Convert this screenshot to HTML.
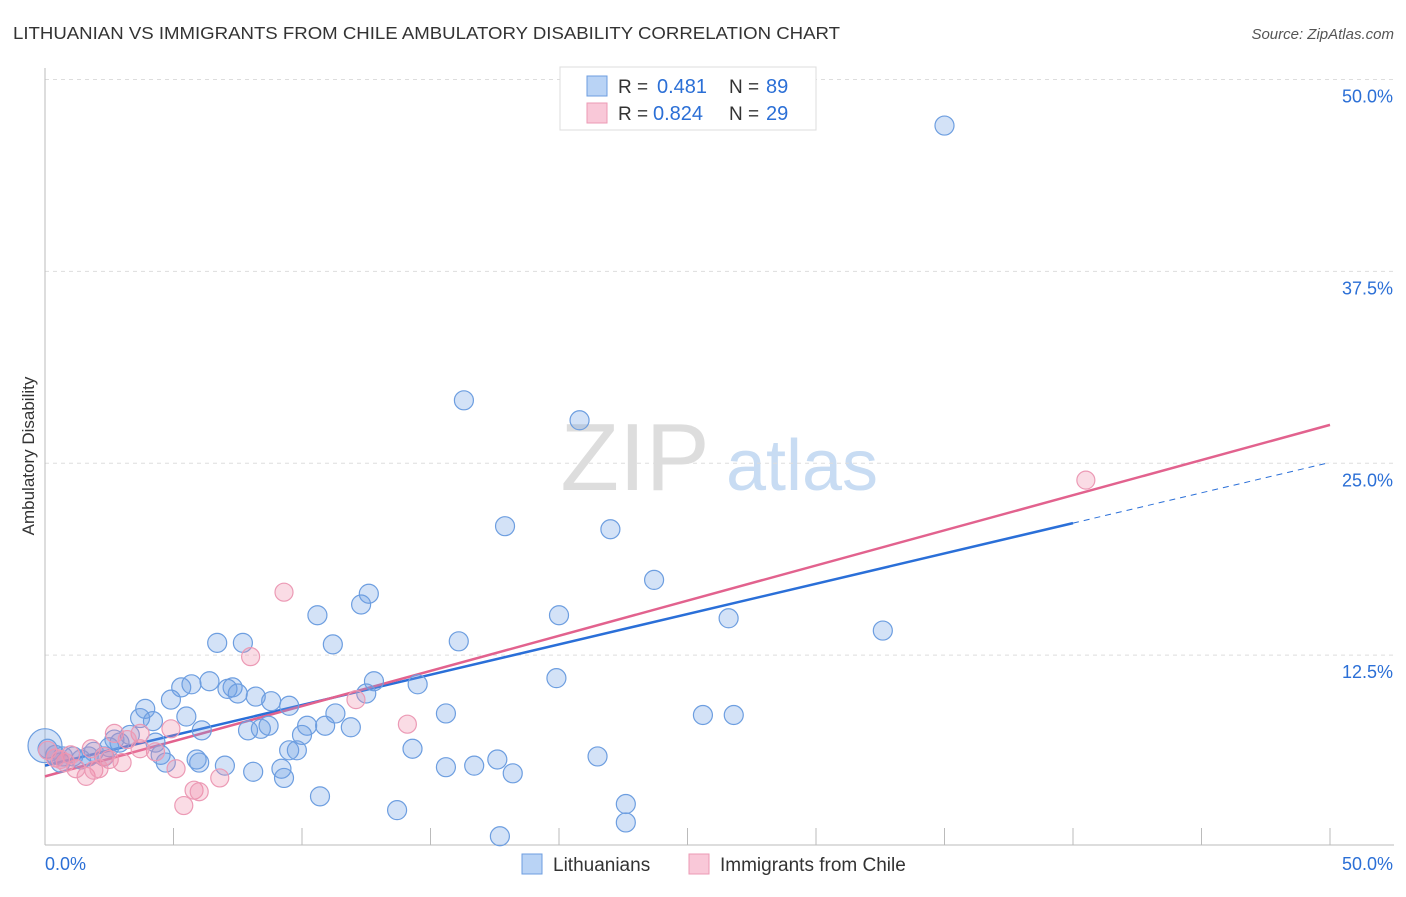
<!DOCTYPE html>
<html><head><meta charset="utf-8"><style>
body{margin:0;background:#fff;font-family:"Liberation Sans",sans-serif;}
svg text{font-family:"Liberation Sans",sans-serif;}
</style></head><body>
<svg id="chart" width="1406" height="892" xmlns="http://www.w3.org/2000/svg">
<text x="13" y="39" font-size="17.5" fill="#333" textLength="827" lengthAdjust="spacingAndGlyphs">LITHUANIAN VS IMMIGRANTS FROM CHILE AMBULATORY DISABILITY CORRELATION CHART</text>
<text x="1394" y="39" font-size="15" fill="#555" text-anchor="end" font-style="italic">Source: ZipAtlas.com</text>
<text transform="translate(34,456) rotate(-90)" font-size="17" fill="#333" text-anchor="middle">Ambulatory Disability</text>
<g>
<text x="635" y="490" font-size="96" fill="#ddd" font-family="Liberation Serif" text-anchor="middle">ZIP</text>
<text x="802" y="490" font-size="72" fill="#c8dcf3" text-anchor="middle">atlas</text>
</g>
<g id="grid"></g><g id="axes"></g><g id="lines"></g><g id="pts"></g>
<g>
<rect x="560" y="67" width="256" height="63" fill="#fff" stroke="#ddd"/>
<rect x="587" y="76" width="20" height="20" fill="#b9d3f5" stroke="#6d9ee0"/>
<rect x="587" y="103" width="20" height="20" fill="#f9c8d8" stroke="#ec9ab5"/>
<text x="618" y="93" font-size="19" fill="#333">R =</text>
<text x="657" y="93" font-size="20" fill="#2b6fd6">0.481</text>
<text x="729" y="93" font-size="19" fill="#333">N =</text>
<text x="766" y="93" font-size="20" fill="#2b6fd6">89</text>
<text x="618" y="120" font-size="19" fill="#333">R =</text>
<text x="653" y="120" font-size="20" fill="#2b6fd6">0.824</text>
<text x="729" y="120" font-size="19" fill="#333">N =</text>
<text x="766" y="120" font-size="20" fill="#2b6fd6">29</text>
</g>
<g>
<rect x="522" y="854" width="20" height="20" fill="#b9d3f5" stroke="#6d9ee0"/>
<text x="553" y="871" font-size="19" fill="#333">Lithuanians</text>
<rect x="689" y="854" width="20" height="20" fill="#f9c8d8" stroke="#ec9ab5"/>
<text x="720" y="871" font-size="19" fill="#333">Immigrants from Chile</text>
</g>
</svg>
<script>
const blueX=[35.0,16.3,20.8,17.9,22.0,23.7,12.6,12.3,10.6,20.0,26.6,32.6,6.7,7.7,11.2,16.1,19.9,12.8,14.5,6.4,5.3,5.7,7.3,7.1,7.5,8.2,8.8,9.5,4.9,3.9,12.5,3.7,4.2,5.5,11.3,15.6,25.6,26.8,6.1,7.9,8.4,8.7,10.2,10.9,10.0,11.9,4.3,3.3,2.9,2.5,1.9,1.7,1.1,0.7,0.4,0.1,0.6,1.4,2.3,2.7,9.5,9.8,14.3,4.5,4.7,6.0,5.9,7.0,8.1,9.2,9.3,15.6,16.7,17.6,18.2,21.5,10.7,13.7,17.7,22.6,22.6];
const blueY=[47.0,29.1,27.8,20.9,20.7,17.4,16.5,15.8,15.1,15.1,14.9,14.1,13.3,13.3,13.2,13.4,11.0,10.8,10.6,10.8,10.4,10.6,10.4,10.3,10.0,9.8,9.5,9.2,9.6,9.0,10.0,8.4,8.2,8.5,8.7,8.7,8.6,8.6,7.6,7.6,7.7,7.9,7.9,7.9,7.3,7.8,6.8,7.3,6.8,6.5,6.2,5.9,5.9,5.9,6.0,6.4,5.5,5.7,5.9,7.0,6.3,6.3,6.4,6.0,5.5,5.5,5.7,5.3,4.9,5.1,4.5,5.2,5.3,5.7,4.8,5.9,3.3,2.4,0.7,2.8,1.6];
const pinkX=[40.5,9.3,8.0,12.1,14.1,4.9,3.7,2.7,1.8,2.3,2.5,3.0,4.3,5.1,6.8,5.8,6.0,5.4,1.6,1.9,1.2,0.8,0.4,0.1,1.0,3.2,0.6,2.1,3.7];
const pinkY=[23.9,16.6,12.4,9.6,8.0,7.7,7.4,7.4,6.4,5.9,5.7,5.5,6.2,5.1,4.5,3.7,3.6,2.7,4.6,5.0,5.1,5.5,5.8,6.3,6.0,7.0,5.7,5.1,6.4];
const blueLine=[5.3,0.395];
const pinkLine=[4.6,0.458];
const yTicks=[12.5,25.0,37.5,50.0];
const xTickVals=[5,10,15,20,25,30,35,40,45,50];

const NS="http://www.w3.org/2000/svg";
const X=v=>45+v*25.7, Y=v=>847-v*15.35;
function mk(p,t,a){const e=document.createElementNS(NS,t);for(const k in a)e.setAttribute(k,a[k]);document.getElementById(p).appendChild(e);return e;}
yTicks.forEach(t=>{
 const g=mk('grid','line',{x1:45,x2:1394,y1:Y(t),y2:Y(t),stroke:'#ddd','stroke-dasharray':'4,4'});
 
 
 const l=mk('axes','text',{x:1393,y:Y(t)+23,'font-size':18,fill:'#2b6fd6','text-anchor':'end'});
 l.textContent=t.toFixed(1)+'%';
 
 
});
const al=mk('axes','line',{x1:45,x2:45,y1:68,y2:845,stroke:'#bbb'});


const ab=mk('axes','line',{x1:45,x2:1394,y1:845,y2:845,stroke:'#bbb'});


xTickVals.forEach(t=>{
 const k=mk('axes','line',{x1:X(t),x2:X(t),y1:828,y2:845,stroke:'#bbb'});
 
 
});
const x0=mk('axes','text',{x:45,y:870,'font-size':18,fill:'#2b6fd6'});x0.textContent='0.0%';


const x1=mk('axes','text',{x:1393,y:870,'font-size':18,fill:'#2b6fd6','text-anchor':'end'});x1.textContent='50.0%';



function dot(x,y,r,fill,stroke,name){const c=mk('pts','circle',{cx:X(x),cy:Y(y),r:r,fill:fill,stroke:stroke,'stroke-width':1.2});
 
 }
dot(0,6.6,17,'rgba(110,160,230,0.3)','#6d9ee0','point-lithuanians-large');
blueX.forEach((x,i)=>dot(x,blueY[i],9.5,'rgba(110,160,230,0.3)','#6d9ee0','point-lithuanians'));
pinkX.forEach((x,i)=>dot(x,pinkY[i],9,'rgba(240,140,170,0.3)','#ec9ab5','point-chile'));

const bl=mk('lines','line',{x1:X(0),y1:Y(blueLine[0]),x2:X(40),y2:Y(blueLine[0]+blueLine[1]*40),stroke:'#2a6fd8','stroke-width':2.5});


const bd=mk('lines','line',{x1:X(40),y1:Y(blueLine[0]+blueLine[1]*40),x2:X(50),y2:Y(blueLine[0]+blueLine[1]*50),stroke:'#2a6fd8','stroke-width':1,'stroke-dasharray':'6,5'});


const pl=mk('lines','line',{x1:X(0),y1:Y(pinkLine[0]),x2:X(50),y2:Y(pinkLine[0]+pinkLine[1]*50),stroke:'#e2628e','stroke-width':2.5});


</script>
</body></html>
